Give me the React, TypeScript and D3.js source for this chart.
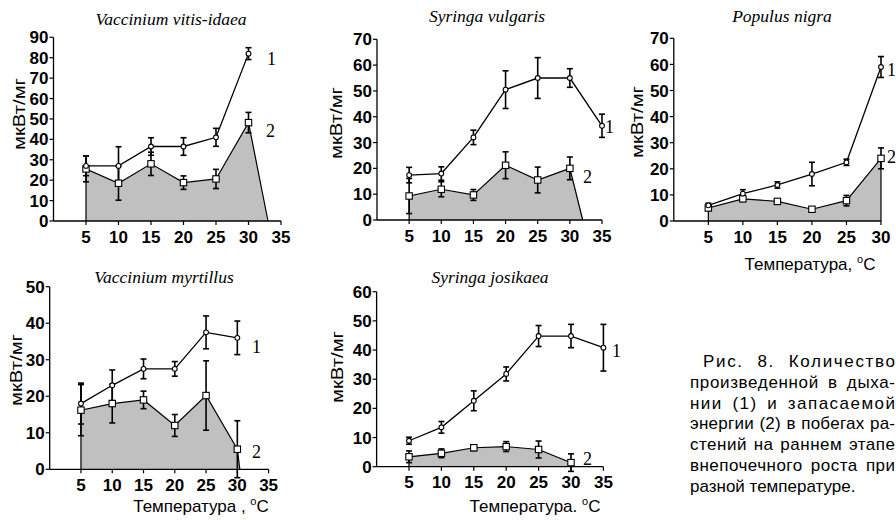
import React from 'react';
import * as d3 from 'd3';

// temperature points, ºC
const temps = [5, 10, 15, 20, 25, 30];
const tempsTo35 = [5, 10, 15, 20, 25, 30, 35];

// Vaccinium vitis-idaea
const vitisResp = [27, 27, 36.5, 36.5, 41, 82];
const vitisRespErr = [4.8, 9.4, 4.3, 4.3, 4.4, 2.9];
const vitisStore = [25.5, 18.5, 28, 18.8, 20.6, 48.2];
const vitisStoreErr = [6.3, 8.3, 5.7, 3.3, 4.7, 5];

// Syringa vulgaris
const vulgResp = [17.4, 18, 32, 50.5, 55, 55, 36.5];
const vulgRespErr = [3, 2.6, 2.8, 7.3, 7.9, 3.6, 4.5];
const vulgStore = [9.3, 11.9, 9.7, 21.2, 15.5, 20];
const vulgStoreErr = [6.8, 2.9, 2.1, 5.2, 5, 4.4];

// Populus nigra
const popResp = [6, 10.5, 13.8, 18, 22.5, 59];
const popRespErr = [0.8, 1.5, 1.2, 4.5, 1.2, 4];
const popStore = [5, 8.5, 7.5, 4.5, 7.8, 24];
const popStoreErr = [1, 1, 0.5, 0.5, 2, 4];

// Vaccinium myrtillus
const myrtResp = [18, 23, 27.5, 27.5, 37.5, 36];
const myrtRespErr = [5.6, 4.2, 2.7, 2, 4.5, 4.6];
const myrtStore = [16.2, 18, 19, 12, 20.2, 5.5];
const myrtStoreErr = [7, 5.3, 2.4, 3, 9.5, 7.8];

// Syringa josikaea
const josResp = [8.9, 13.5, 22.6, 31.8, 44.8, 44.8, 40.8];
const josRespErr = [1.2, 2, 3.4, 2.4, 3.6, 4, 8];
const josStore = [3.4, 4.6, 6.5, 6.9, 5.9, 1.4];
const josStoreErr = [2, 1.5, 1, 1.7, 2.9, 3];

// temperature where the shaded area (series 2) drops back to 0
const areaEnds = [33, 32, 30, 30.4, 30.4];

const titles = [
  'Vaccinium vitis-idaea',
  'Syringa vulgaris',
  'Populus nigra',
  'Vaccinium myrtillus',
  'Syringa josikaea',
];
const yLabel = 'мкВт/мг';

const captionLines = [
  'Рис. 8. Количество',
  'произведенной в дыха-',
  'нии (1) и запасаемой',
  'энергии (2) в побегах ра-',
  'стений на раннем этапе',
  'внепочечного роста при',
  'разной температуре.',
];

const sans = 'Arial, "Liberation Sans", sans-serif';
const serif = '"Times New Roman", "Liberation Serif", serif';

const panels = [
  {
    title: titles[0], titleX: 171, titleY: 25,
    xMax: 35, yMax: 90, x0: 53.5, x1: 281, y0: 221, y1: 37.3,
    resp: vitisResp, respErr: vitisRespErr, respX: temps,
    store: vitisStore, storeErr: vitisStoreErr, areaEnd: areaEnds[0],
    yLabX: 19, yLabY: 114,
    lab1: [267, 65], lab2: [266, 137],
  },
  {
    title: titles[1], titleX: 487, titleY: 22,
    xMax: 35, yMax: 70, x0: 377, x1: 602, y0: 220, y1: 39.3,
    resp: vulgResp, respErr: vulgRespErr, respX: tempsTo35,
    store: vulgStore, storeErr: vulgStoreErr, areaEnd: areaEnds[1],
    yLabX: 336, yLabY: 123,
    lab1: [605, 133], lab2: [583, 183],
  },
  {
    title: titles[2], titleX: 782, titleY: 22,
    xMax: 30, yMax: 70, x0: 673.8, x1: 881, y0: 221, y1: 38.3,
    resp: popResp, respErr: popRespErr, respX: temps,
    store: popStore, storeErr: popStoreErr, areaEnd: areaEnds[2],
    yLabX: 637, yLabY: 122,
    lab1: [887, 76], lab2: [887, 163],
    xLabel: 'Температура, ', xLabX: 810, xLabY: 270,
  },
  {
    title: titles[3], titleX: 164, titleY: 283,
    xMax: 35, yMax: 50, x0: 49.7, x1: 268.6, y0: 469.3, y1: 286.7,
    resp: myrtResp, respErr: myrtRespErr, respX: temps,
    store: myrtStore, storeErr: myrtStoreErr, areaEnd: areaEnds[3],
    yLabX: 16, yLabY: 370,
    lab1: [252, 353], lab2: [252, 458],
    xLabel: 'Температура , ', xLabX: 201, xLabY: 512,
  },
  {
    title: titles[4], titleX: 490, titleY: 283,
    xMax: 35, yMax: 60, x0: 376.6, x1: 603.4, y0: 466.7, y1: 291.7,
    resp: josResp, respErr: josRespErr, respX: tempsTo35,
    store: josStore, storeErr: josStoreErr, areaEnd: areaEnds[4],
    yLabX: 337, yLabY: 367,
    lab1: [612, 357], lab2: [583, 465],
    xLabel: 'Температура. ', xLabX: 535, xLabY: 512,
  },
];

// text width, used to justify the caption
let measureCtx: CanvasRenderingContext2D | null = null;
function textWidth(s: string, font: string) {
  if (!measureCtx) measureCtx = document.createElement('canvas').getContext('2d');
  measureCtx.font = font;
  return measureCtx.measureText(s).width;
}

function ErrBar({ cx, yTop, yBot }) {
  return (
    <g stroke='black' strokeWidth={1.6}>
      <line x1={cx} x2={cx} y1={yTop} y2={yBot} />
      <line x1={cx - 3} x2={cx + 3} y1={yTop} y2={yTop} />
      <line x1={cx - 3} x2={cx + 3} y1={yBot} y2={yBot} />
    </g>
  );
}

function Panel({ p }) {
  const x = d3.scaleLinear().domain([0, p.xMax]).range([p.x0, p.x1]);
  const y = d3.scaleLinear().domain([0, p.yMax]).range([p.y0, p.y1]);

  const storePts: [number, number][] = p.store.map((v, i) => [temps[i], v]);
  const respPts: [number, number][] = p.resp.map((v, i) => [p.respX[i], v]);
  const areaPts: [number, number][] = [[temps[0], 0], ...storePts, [p.areaEnd, 0]];

  const area = d3
    .area<[number, number]>()
    .x((d) => x(d[0]))
    .y0(y(0))
    .y1((d) => y(d[1]));
  const line = d3
    .line<[number, number]>()
    .x((d) => x(d[0]))
    .y((d) => y(d[1]));

  const yTicks = d3.range(0, p.yMax + 1, 10);
  const xTicks = d3.range(5, p.xMax + 1, 5);

  return (
    <g>
      {/* title */}
      <text
        x={p.titleX}
        y={p.titleY}
        textAnchor='middle'
        fontFamily={serif}
        fontStyle='italic'
        fontSize={17.5}
      >
        {p.title}
      </text>

      {/* stored energy: shaded area */}
      <path d={area(areaPts)} fill='#c0c0c0' stroke='none' />
      <path d={line(areaPts)} fill='none' stroke='black' strokeWidth={1.2} />

      {/* axes */}
      <line x1={x(0)} x2={x(0)} y1={y(0)} y2={y(p.yMax)} stroke='black' strokeWidth={1.3} />
      <line x1={x(0)} x2={x(p.xMax)} y1={y(0)} y2={y(0)} stroke='black' strokeWidth={1.3} />
      {yTicks.map((t) => (
        <g key={'y' + t}>
          <line x1={x(0) - 4} x2={x(0)} y1={y(t)} y2={y(t)} stroke='black' strokeWidth={1.2} />
          <text
            x={x(0) - 5}
            y={y(t)}
            dy='0.36em'
            textAnchor='end'
            fontFamily={sans}
            fontWeight='bold'
            fontSize={17}
          >
            {t}
          </text>
        </g>
      ))}
      {xTicks.map((t) => (
        <g key={'x' + t}>
          <line x1={x(t)} x2={x(t)} y1={y(0)} y2={y(0) + 4} stroke='black' strokeWidth={1.2} />
          <text
            x={x(t)}
            y={y(0) + 21.5}
            textAnchor='middle'
            fontFamily={sans}
            fontWeight='bold'
            fontSize={17}
          >
            {t}
          </text>
        </g>
      ))}

      {/* axis titles */}
      <text
        transform={`translate(${p.yLabX},${p.yLabY}) rotate(-90)`}
        textAnchor='middle'
        dy='0.36em'
        fontFamily={sans}
        fontSize={17}
        textLength={72}
        lengthAdjust='spacingAndGlyphs'
      >
        {yLabel}
      </text>
      {p.xLabel && (
        <text x={p.xLabX} y={p.xLabY} textAnchor='middle' fontFamily={sans} fontSize={17}>
          {p.xLabel}
          <tspan fontSize={11} dy={-7}>o</tspan>
          <tspan dy={7}>C</tspan>
        </text>
      )}

      {/* respiration: line */}
      <path d={line(respPts)} fill='none' stroke='black' strokeWidth={1.3} />

      {/* error bars */}
      {p.store.map((v, i) => (
        <ErrBar
          key={'se' + i}
          cx={x(temps[i])}
          yTop={y(v + p.storeErr[i])}
          yBot={y(v - p.storeErr[i])}
        />
      ))}
      {p.resp.map((v, i) => (
        <ErrBar
          key={'re' + i}
          cx={x(p.respX[i])}
          yTop={y(v + p.respErr[i])}
          yBot={y(v - p.respErr[i])}
        />
      ))}

      {/* markers */}
      {storePts.map((d, i) => (
        <rect
          key={'sq' + i}
          x={x(d[0]) - 3.2}
          y={y(d[1]) - 3.2}
          width={6.4}
          height={6.4}
          fill='white'
          stroke='black'
          strokeWidth={1.1}
        />
      ))}
      {respPts.map((d, i) => (
        <circle
          key={'c' + i}
          cx={x(d[0])}
          cy={y(d[1])}
          r={2.4}
          fill='white'
          stroke='black'
          strokeWidth={1.1}
        />
      ))}

      {/* series numbers */}
      <text x={p.lab1[0]} y={p.lab1[1]} fontFamily={serif} fontSize={18}>
        1
      </text>
      <text x={p.lab2[0]} y={p.lab2[1]} fontFamily={serif} fontSize={18}>
        2
      </text>
    </g>
  );
}

export default function App() {
  const capLeft = 690;
  const capRight = 895;
  const capTop = 367;
  const capStep = 20.8;
  const capFont = `17px ${sans}`;

  return (
    <div style={{ position: 'absolute', left: 0, top: 0, background: 'white' }}>
      <svg width={896} height={520} style={{ display: 'block' }}>
        <rect width={896} height={520} fill='white' />
        {panels.map((p, i) => (
          <Panel key={i} p={p} />
        ))}

        {/* figure caption, justified: half the slack as letter spacing, half between words */}
        {captionLines.map((s, i) => {
          const left = i === 0 ? capLeft + 13 : capLeft;
          const yy = capTop + i * capStep;
          if (i === captionLines.length - 1) {
            return (
              <text key={'cap' + i} x={left} y={yy} fontFamily={sans} fontSize={17}>
                {s}
              </text>
            );
          }
          const words = s.split(' ');
          const natural = words.map((w) => textWidth(w, capFont));
          const space = textWidth(' ', capFont);
          const slack = capRight - left - d3.sum(natural) - space * (words.length - 1);
          const letterGaps = d3.sum(words, (w) => w.length - 1);
          const ls = (slack * 0.5) / letterGaps;
          const widths = words.map((w, j) => natural[j] + ls * (w.length - 1));
          const gap = (capRight - left - d3.sum(widths)) / (words.length - 1);
          let cursor = left;
          return (
            <g key={'cap' + i}>
              {words.map((w, j) => {
                const wx = cursor;
                cursor += widths[j] + gap;
                return (
                  <text
                    key={j}
                    x={wx}
                    y={yy}
                    fontFamily={sans}
                    fontSize={17}
                    letterSpacing={ls}
                  >
                    {w}
                  </text>
                );
              })}
            </g>
          );
        })}
      </svg>
    </div>
  );
}
